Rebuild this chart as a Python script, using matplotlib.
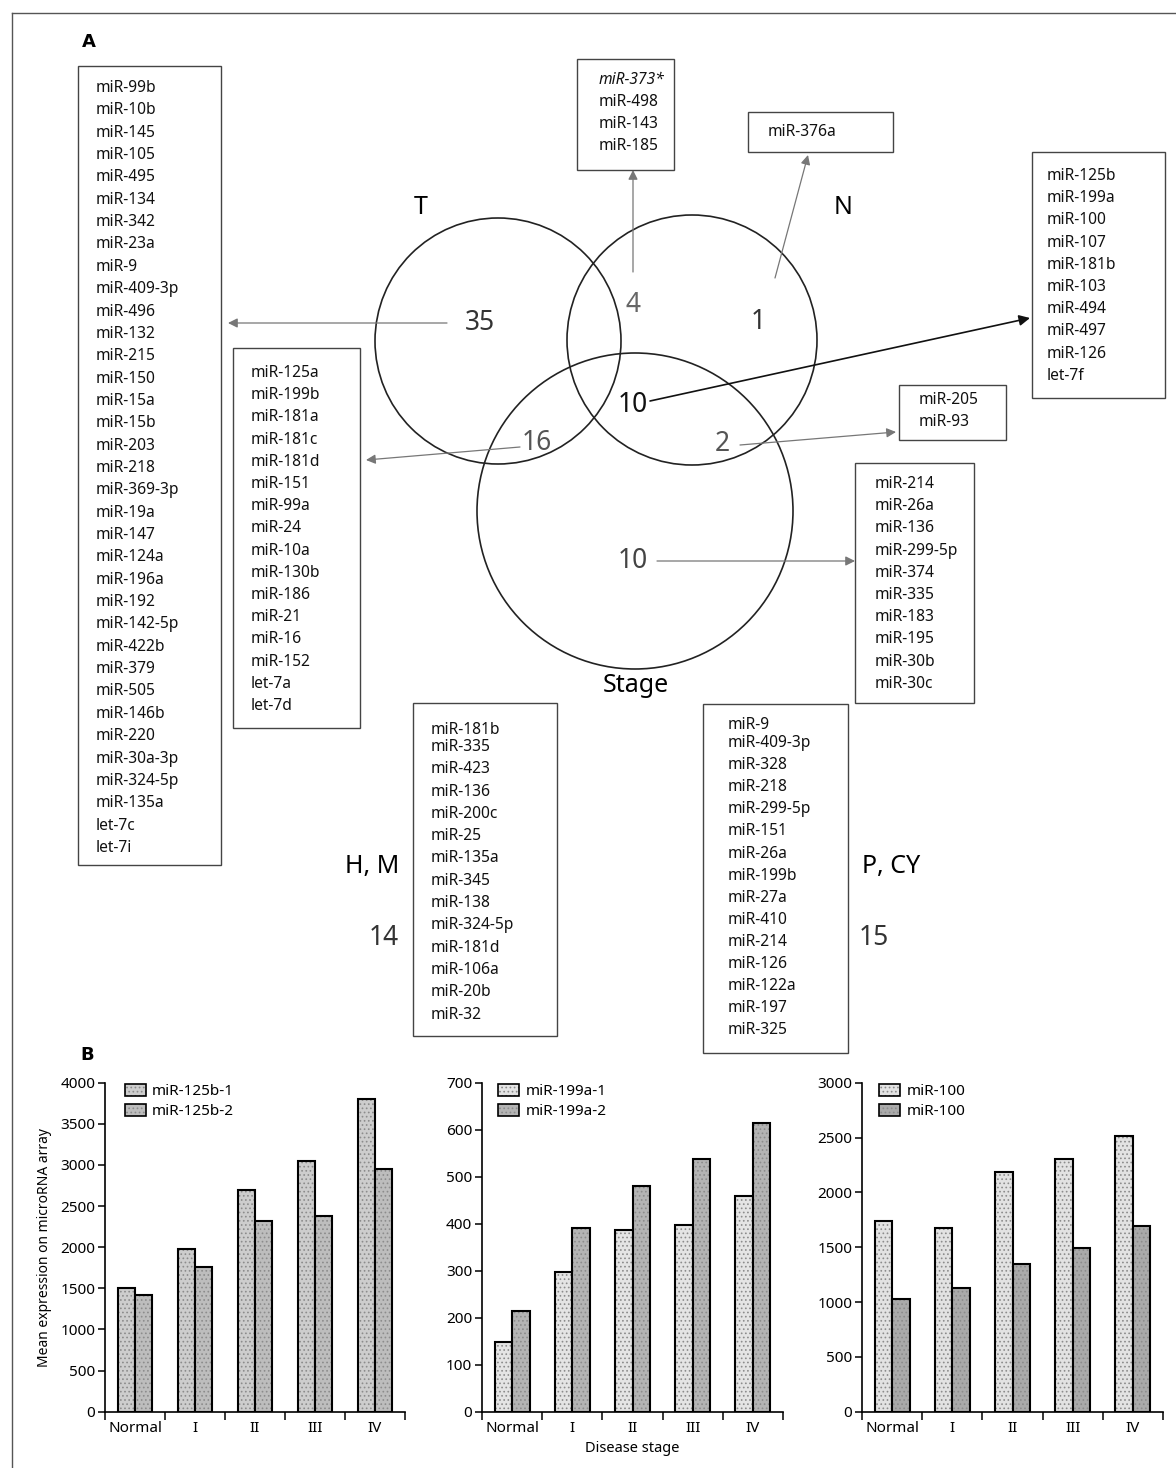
import numpy as np
import matplotlib
matplotlib.use('Agg')
import matplotlib.pyplot as plt
from matplotlib.patches import Circle, Rectangle, Patch
from matplotlib.legend_handler import HandlerTuple

plt.rcParams['font.family'] = ['Noto Sans', 'DejaVu Sans']
plt.rcParams['hatch.linewidth'] = 0.7

W, H = 1176, 1468

# ---- panel A: Venn diagram data ----
set_labels = ['T', 'N', 'Stage']
side_labels = ['H, M', 'P, CY']
side_counts = [14, 15]
# region counts: T only, T&N, N only, T&N&Stage, T&Stage, N&Stage, Stage only
region_counts = [35, 4, 1, 10, 16, 2, 10]

t_only = ['miR-99b', 'miR-10b', 'miR-145', 'miR-105', 'miR-495', 'miR-134', 'miR-342',
          'miR-23a', 'miR-9', 'miR-409-3p', 'miR-496', 'miR-132', 'miR-215', 'miR-150',
          'miR-15a', 'miR-15b', 'miR-203', 'miR-218', 'miR-369-3p', 'miR-19a', 'miR-147',
          'miR-124a', 'miR-196a', 'miR-192', 'miR-142-5p', 'miR-422b', 'miR-379', 'miR-505',
          'miR-146b', 'miR-220', 'miR-30a-3p', 'miR-324-5p', 'miR-135a', 'let-7c', 'let-7i']
t_stage = ['miR-125a', 'miR-199b', 'miR-181a', 'miR-181c', 'miR-181d', 'miR-151', 'miR-99a',
           'miR-24', 'miR-10a', 'miR-130b', 'miR-186', 'miR-21', 'miR-16', 'miR-152',
           'let-7a', 'let-7d']
t_n = ['miR-373*', 'miR-498', 'miR-143', 'miR-185']
n_only = ['miR-376a']
all_three = ['miR-125b', 'miR-199a', 'miR-100', 'miR-107', 'miR-181b', 'miR-103', 'miR-494',
             'miR-497', 'miR-126', 'let-7f']
n_stage = ['miR-205', 'miR-93']
stage_only = ['miR-214', 'miR-26a', 'miR-136', 'miR-299-5p', 'miR-374', 'miR-335', 'miR-183',
              'miR-195', 'miR-30b', 'miR-30c']
hm_list = ['miR-181b', 'miR-335', 'miR-423', 'miR-136', 'miR-200c', 'miR-25', 'miR-135a',
           'miR-345', 'miR-138', 'miR-324-5p', 'miR-181d', 'miR-106a', 'miR-20b', 'miR-32']
pcy_list = ['miR-9', 'miR-409-3p', 'miR-328', 'miR-218', 'miR-299-5p', 'miR-151', 'miR-26a',
            'miR-199b', 'miR-27a', 'miR-410', 'miR-214', 'miR-126', 'miR-122a', 'miR-197',
            'miR-325']

# ---- panel B: bar chart data ----
stages = ['Normal', 'I', 'II', 'III', 'IV']
mir125b_1 = [1510, 1975, 2700, 3050, 3800]
mir125b_2 = [1420, 1760, 2320, 2380, 2950]
mir199a_1 = [148, 297, 386, 397, 460]
mir199a_2 = [214, 390, 480, 537, 615]
mir100_a = [1740, 1675, 2190, 2300, 2510]
mir100_b = [1025, 1125, 1350, 1490, 1695]

fig = plt.figure(figsize=(W / 100, H / 100), dpi=100)

# overlay axes in pixel coordinates for panel A
ov = fig.add_axes([0, 0, 1, 1])
ov.set_xlim(0, W)
ov.set_ylim(H, 0)
ov.axis('off')

# scan frame
ov.plot([12, W], [13, 13], color='#555', lw=1.0)
ov.plot([12, 12], [13, H], color='#555', lw=1.0)

ov.text(82, 42, 'A', fontsize=13, fontweight='bold', va='center', family='DejaVu Sans')
ov.text(80, 1055, 'B', fontsize=13, fontweight='bold', va='center', family='DejaVu Sans')

# circles
for cx, cy, r in [(498, 341, 123), (692, 340, 125), (635, 511, 158)]:
    ov.add_patch(Circle((cx, cy), r, fill=False, ec='#222', lw=1.2))

ov.text(421, 208, set_labels[0], fontsize=18, ha='center', va='center')
ov.text(843, 208, set_labels[1], fontsize=18, ha='center', va='center')
ov.text(636, 686, set_labels[2], fontsize=18, ha='center', va='center')

num_pos = [(480, 323), (633, 305), (758, 322), (633, 405), (537, 443), (722, 444), (633, 561)]
num_col = ['#333', '#666', '#333', '#111', '#555', '#555', '#444']
for (x, y), n, c in zip(num_pos, region_counts, num_col):
    ov.text(x, y, str(n), fontsize=19, ha='center', va='center', color=c)

ov.text(372, 866, side_labels[0], fontsize=18, ha='center', va='center')
ov.text(384, 938, str(side_counts[0]), fontsize=19, ha='center', va='center', color='#333')
ov.text(891, 866, side_labels[1], fontsize=18, ha='center', va='center')
ov.text(874, 938, str(side_counts[1]), fontsize=19, ha='center', va='center', color='#333')


def draw_box(x0, y0, x1, y1, items, tx, ty0, step, first_gap=None, italic_first=False):
    ov.add_patch(Rectangle((x0, y0), x1 - x0, y1 - y0, fill=False, ec='#444', lw=1.0))
    y = ty0
    for i, s in enumerate(items):
        style = 'italic' if (italic_first and i == 0) else 'normal'
        ov.text(tx, y, s, fontsize=11.2, ha='left', va='center', style=style, color='#111')
        y += first_gap if (first_gap is not None and i == 0) else step


draw_box(78, 66, 221, 865, t_only, 96, 88, 22.35)
draw_box(233, 348, 360, 728, t_stage, 251, 373, 22.2)
draw_box(577, 59, 674, 170, t_n, 599, 80, 22, italic_first=True)
draw_box(748, 112, 893, 152, n_only, 768, 132, 22)
draw_box(1032, 152, 1165, 398, all_three, 1047, 176, 22.2)
draw_box(899, 385, 1006, 440, n_stage, 919, 400, 22)
draw_box(855, 463, 974, 703, stage_only, 875, 484, 22.2)
draw_box(413, 703, 557, 1036, hm_list, 431, 730, 22.3, first_gap=17)
draw_box(703, 704, 848, 1053, pcy_list, 728, 725, 22.1, first_gap=18)

grey_arrow = dict(arrowstyle='-|>', color='#777', lw=0.9, mutation_scale=14,
                  shrinkA=0, shrinkB=0)
for start, end in [((447, 323), (228, 323)), ((633, 272), (633, 170)),
                   ((775, 278), (808, 155)), ((520, 447), (366, 460)),
                   ((740, 445), (896, 432)), ((657, 561), (855, 561))]:
    ov.annotate('', xy=end, xytext=start, arrowprops=grey_arrow)
ov.annotate('', xy=(1030, 318), xytext=(650, 401),
            arrowprops=dict(arrowstyle='-|>', color='#111', lw=1.2, mutation_scale=16,
                            shrinkA=0, shrinkB=0))


# ---- panel B bar charts ----
def px_rect(left, right, top, bottom):
    return [left / W, 1 - bottom / H, (right - left) / W, (bottom - top) / H]


def bar_panel(rect, s1, s2, names, colors, ymax, step, leg_x):
    ax = fig.add_axes(rect)
    ax.patch.set_alpha(0)
    x = np.arange(len(stages))
    w = 0.29
    handles = []
    for off, vals, fc in [(-w / 2, s1, colors[0]), (w / 2, s2, colors[1])]:
        ax.bar(x + off, vals, w, color=fc, hatch='....', edgecolor='#8c8c8c', linewidth=0)
        ax.bar(x + off, vals, w, fill=False, edgecolor='black', linewidth=1.5)
        handles.append((Patch(facecolor=fc, hatch='....', edgecolor='#8c8c8c', linewidth=0),
                        Patch(fill=False, edgecolor='black', linewidth=1.2)))
    ax.set_xlim(-0.5, len(stages) - 0.5)
    ax.set_ylim(0, ymax)
    ax.set_yticks(np.arange(0, ymax + 1, step))
    ax.set_xticks(np.arange(-0.5, len(stages), 1))
    ax.set_xticklabels([])
    ax.set_xticks(x, minor=True)
    ax.set_xticklabels(stages, minor=True)
    ax.tick_params(axis='x', which='major', length=6, width=1.1, direction='out')
    ax.tick_params(axis='x', which='minor', length=0, pad=7, labelsize=11)
    ax.tick_params(axis='y', length=5, width=1.1, pad=2, labelsize=11)
    for side in ['top', 'right']:
        ax.spines[side].set_visible(False)
    for side in ['left', 'bottom']:
        ax.spines[side].set_linewidth(1.2)
    ax.legend(handles, names, handler_map={tuple: HandlerTuple(ndivide=1)},
              loc='upper left', bbox_to_anchor=(leg_x, 0.995), frameon=False,
              fontsize=11, handlelength=1.4, handleheight=0.8, labelspacing=0.3,
              handletextpad=0.4, borderpad=0, borderaxespad=0)
    return ax


ax1 = bar_panel(px_rect(105, 405, 1082.7, 1411.7), mir125b_1, mir125b_2,
                ['miR-125b-1', 'miR-125b-2'], ['#cdcdcd', '#bdbdbd'], 4000, 500, 0.065)
ax1.set_ylabel('Mean expression on microRNA array', fontsize=10, labelpad=6)
ax2 = bar_panel(px_rect(482, 783, 1082.7, 1411.7), mir199a_1, mir199a_2,
                ['miR-199a-1', 'miR-199a-2'], ['#e4e4e4', '#b4b4b4'], 700, 100, 0.053)
ax2.set_xlabel('Disease stage', fontsize=10.5, labelpad=3)
ax3 = bar_panel(px_rect(862, 1163, 1082.7, 1411.7), mir100_a, mir100_b,
                ['miR-100', 'miR-100'], ['#e2e2e2', '#aaaaaa'], 3000, 500, 0.056)

fig.savefig('out.png', dpi=100)
